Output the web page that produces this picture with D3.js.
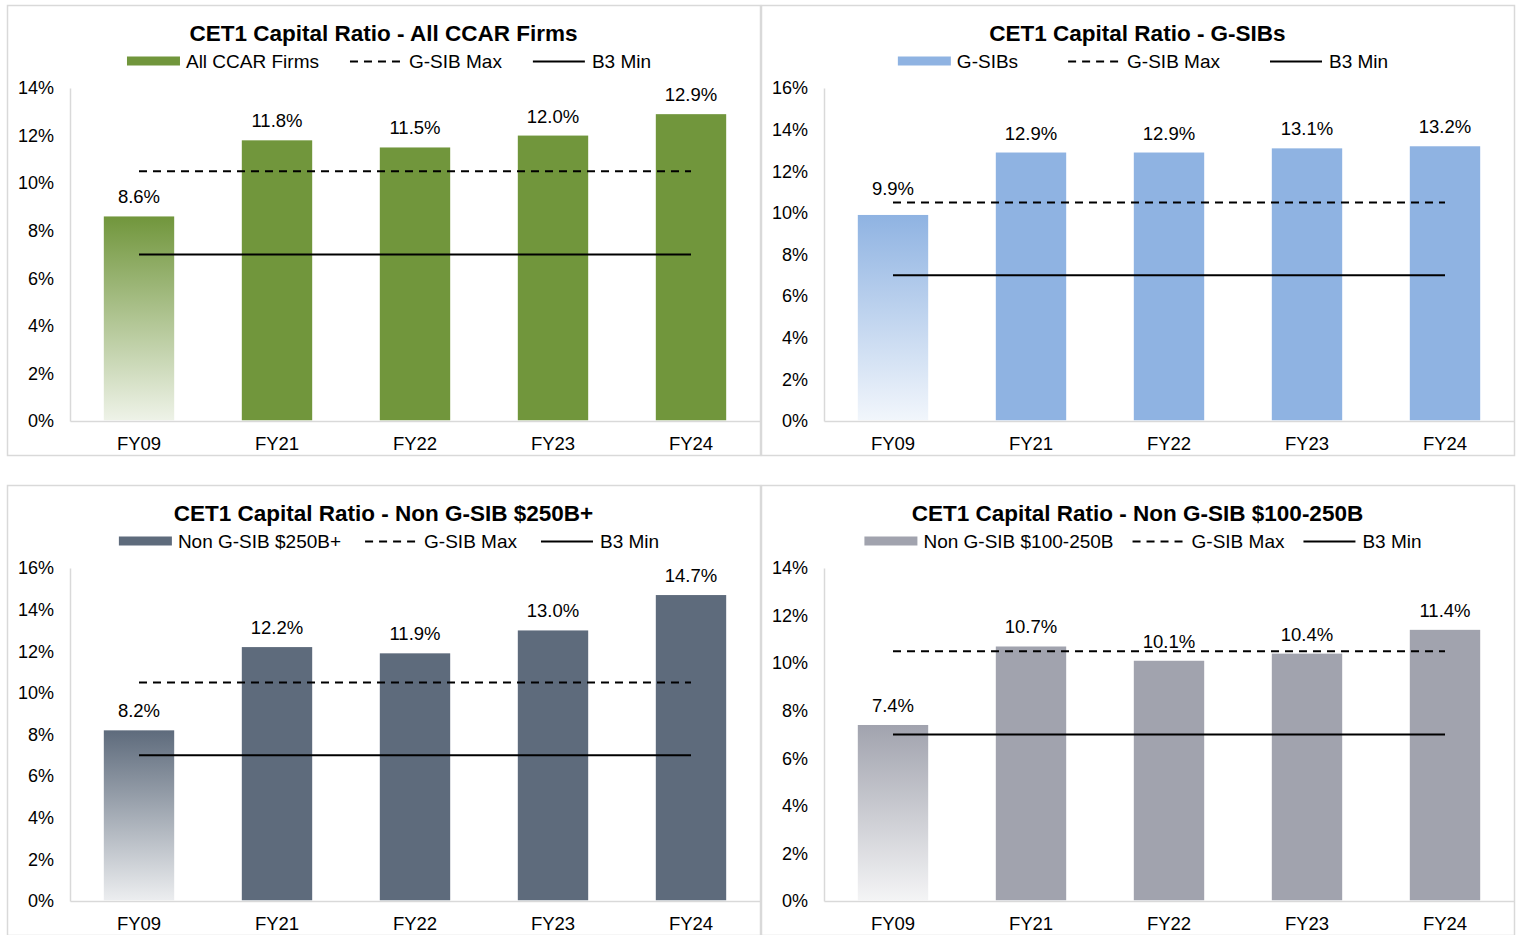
<!DOCTYPE html>
<html>
<head>
<meta charset="utf-8">
<script src="https://cdn.jsdelivr.net/npm/d3@7"></script>
<style>
    body { margin: 0; background: #fff; }
    svg { display: block; font-family: "Liberation Sans", Arial, sans-serif; }
</style>
</head>
<body>
<script>
// 数据
const categories = ['FY09', 'FY21', 'FY22', 'FY23', 'FY24'];
const allCcar = [8.6, 11.8, 11.5, 12.0, 12.9];
const gsibs = [9.9, 12.9, 12.9, 13.1, 13.2];
const nonGsib250 = [8.2, 12.2, 11.9, 13.0, 14.7];
const nonGsib100 = [7.4, 10.7, 10.1, 10.4, 11.4];
const gsibMax = 10.5;
const b3Min = 7;

const panels = [
    {title: 'CET1 Capital Ratio - All CCAR Firms', name: 'All CCAR Firms', values: allCcar, max: 14, color: '#71963c', x: 7, y: 5, gap: 31},
    {title: 'CET1 Capital Ratio - G-SIBs', name: 'G-SIBs', values: gsibs, max: 16, color: '#8fb3e2', x: 761, y: 5, gap: 50},
    {title: 'CET1 Capital Ratio - Non G-SIB $250B+', name: 'Non G-SIB $250B+', values: nonGsib250, max: 16, color: '#5e6b7c', x: 7, y: 485, gap: 24},
    {title: 'CET1 Capital Ratio - Non G-SIB $100-250B', name: 'Non G-SIB $100-250B', values: nonGsib100, max: 14, color: '#a1a3ae', x: 761, y: 485, gap: 19}
];

// 面板大小
const panelW = 753;
const panelH = 450;
const plot = {left: 63, top: 83, bottom: 416, right: 753};
const fontFamily = '"Liberation Sans", Arial, sans-serif';

const svg = d3.select('body')
    .append('svg')
    .attr('width', 1519)
    .attr('height', 935);

const defs = svg.append('defs');

panels.forEach((p, idx) => drawPanel(p, idx));

/**
 * 画一个面板
 *
 * @param {Object} p 面板配置
 * @param {number} idx 序号
 */
function drawPanel(p, idx) {
    const g = svg.append('g').attr('transform', `translate(${p.x},${p.y})`);

    g.append('rect')
        .attr('x', 0.5)
        .attr('y', 0.5)
        .attr('width', panelW)
        .attr('height', panelH)
        .attr('fill', '#fff')
        .attr('stroke', '#d9d9d9')
        .attr('stroke-width', 1.5);

    const x = d3.scaleBand()
        .domain(categories)
        .range([plot.left, plot.right])
        .paddingInner(0.49)
        .paddingOuter(0.245);
    const y = d3.scaleLinear()
        .domain([0, p.max])
        .range([plot.bottom, plot.top]);

    // 渐变
    const grad = defs.append('linearGradient')
        .attr('id', 'grad' + idx)
        .attr('x1', 0).attr('y1', 0)
        .attr('x2', 0).attr('y2', 1);
    grad.append('stop').attr('offset', '0%').attr('stop-color', p.color).attr('stop-opacity', 1);
    grad.append('stop').attr('offset', '100%').attr('stop-color', p.color).attr('stop-opacity', 0.12);

    // y轴
    const yAxis = g.append('g')
        .attr('transform', `translate(${plot.left},0)`)
        .call(d3.axisLeft(y).tickValues(d3.range(0, p.max + 1, 2)).tickSize(0).tickPadding(16)
            .tickFormat(d => d + '%'));
    yAxis.select('.domain').attr('stroke', '#d9d9d9').attr('stroke-width', 1.5);
    yAxis.selectAll('text')
        .attr('font-size', '18px')
        .attr('fill', '#000')
        .attr('font-family', fontFamily);

    // x轴
    const xAxis = g.append('g')
        .attr('transform', `translate(0,${plot.bottom})`)
        .call(d3.axisBottom(x).tickSize(0).tickPadding(16));
    xAxis.select('.domain').attr('stroke', '#d9d9d9').attr('stroke-width', 1.5);
    xAxis.selectAll('text')
        .attr('font-size', '18.5px')
        .attr('fill', '#000')
        .attr('font-family', fontFamily);

    // 柱形
    g.selectAll('rect.bar')
        .data(p.values)
        .enter()
        .append('rect')
        .attr('class', 'bar')
        .attr('x', (d, i) => x(categories[i]))
        .attr('y', d => y(d))
        .attr('width', x.bandwidth())
        .attr('height', d => plot.bottom - y(d) - 0.75)
        .attr('fill', (d, i) => i === 0 ? `url(#grad${idx})` : p.color);

    // 数值，如果压到虚线就挪到虚线上方
    const labelY = d => {
        const base = y(d) - 13;
        const dash = y(gsibMax);
        if (dash > base - 14 && dash < base + 3) {
            return dash - 7;
        }
        return base;
    };
    g.selectAll('text.val')
        .data(p.values)
        .enter()
        .append('text')
        .attr('class', 'val')
        .attr('x', (d, i) => x(categories[i]) + x.bandwidth() / 2)
        .attr('y', labelY)
        .attr('text-anchor', 'middle')
        .attr('font-size', '18.5px')
        .attr('fill', '#000')
        .text(d => d.toFixed(1) + '%');

    // 参考线
    const x0 = x(categories[0]) + x.bandwidth() / 2;
    const x1 = x(categories[categories.length - 1]) + x.bandwidth() / 2;
    g.append('line')
        .attr('x1', x0).attr('x2', x1)
        .attr('y1', y(gsibMax)).attr('y2', y(gsibMax))
        .attr('stroke', '#000')
        .attr('stroke-width', 2)
        .attr('stroke-dasharray', '8,6');
    g.append('line')
        .attr('x1', x0).attr('x2', x1)
        .attr('y1', y(b3Min)).attr('y2', y(b3Min))
        .attr('stroke', '#000')
        .attr('stroke-width', 2);

    // 标题
    g.append('text')
        .attr('x', panelW / 2)
        .attr('y', 36)
        .attr('text-anchor', 'middle')
        .attr('font-size', '22.5px')
        .attr('font-weight', 'bold')
        .attr('fill', '#000')
        .text(p.title);

    // 图例
    const items = [
        {label: p.name, type: 'bar'},
        {label: 'G-SIB Max', type: 'dash'},
        {label: 'B3 Min', type: 'line'}
    ];
    const legend = g.append('g');
    let cx = 0;
    items.forEach(it => {
        const item = legend.append('g').attr('transform', `translate(${cx},0)`);
        if (it.type === 'bar') {
            item.append('rect')
                .attr('x', 0).attr('y', -5)
                .attr('width', 53).attr('height', 9)
                .attr('fill', p.color);
        }
        else {
            item.append('line')
                .attr('x1', 0).attr('x2', 52)
                .attr('y1', 0).attr('y2', 0)
                .attr('stroke', '#000')
                .attr('stroke-width', 2)
                .attr('stroke-dasharray', it.type === 'dash' ? '8,6' : null);
        }
        const t = item.append('text')
            .attr('x', 59)
            .attr('y', 6.5)
            .attr('font-size', '19px')
            .attr('fill', '#000')
            .text(it.label);
        cx += 59 + t.node().getComputedTextLength() + p.gap;
    });
    cx -= p.gap;
    legend.attr('transform', `translate(${382 - cx / 2},56.5)`);
}
</script>
</body>
</html>
